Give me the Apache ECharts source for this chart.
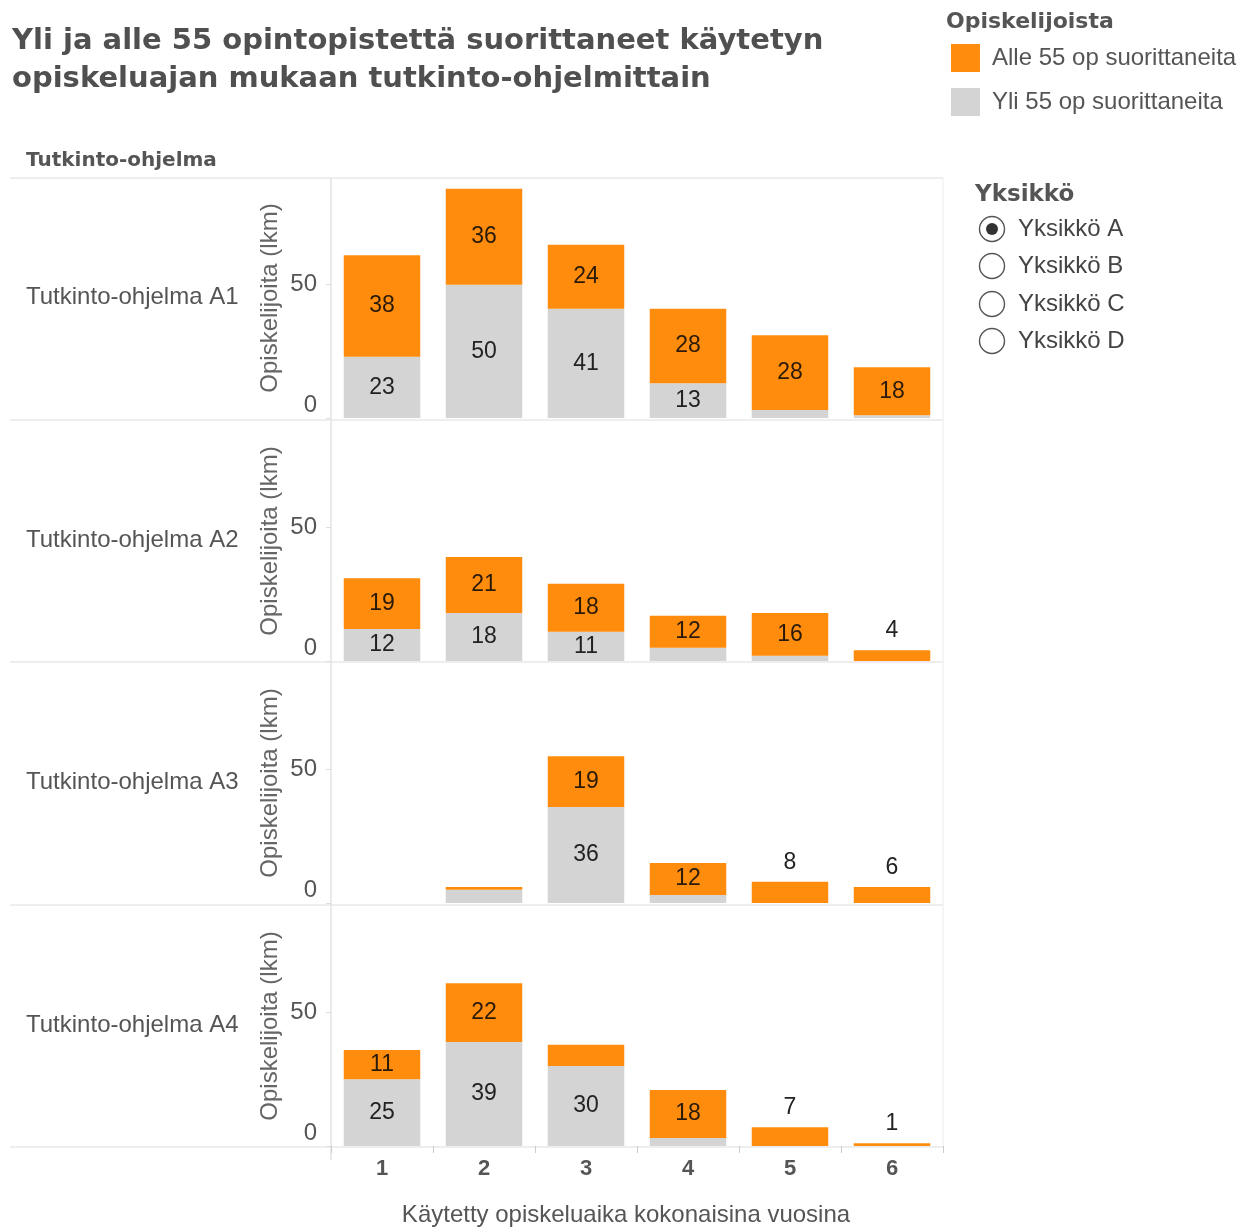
<!DOCTYPE html>
<html>
<head>
<meta charset="utf-8">
<script src="https://cdn.jsdelivr.net/npm/echarts@6/dist/echarts.min.js"></script>
<style>
  html, body { margin: 0; padding: 0; background: #ffffff; }
  #chart { width: 1247px; height: 1228px; }
</style>
</head>
<body>
<div id="chart"></div>
<script>
// Study years (x categories)
const years = ['1', '2', '3', '4', '5', '6'];
const programmes = ['Tutkinto-ohjelma A1', 'Tutkinto-ohjelma A2', 'Tutkinto-ohjelma A3', 'Tutkinto-ohjelma A4'];
const units = ['Yksikkö A', 'Yksikkö B', 'Yksikkö C', 'Yksikkö D'];
const yTicks = [0, 50];

// Students with more than 55 credits, per study year
const over55_A1 = [23, 50, 41, 13, 3, 1];
const over55_A2 = [12, 18, 11, 5, 2, 0];
const over55_A3 = [0, 5, 36, 3, 0, 0];
const over55_A4 = [25, 39, 30, 3, 0, 0];

// Students with fewer than 55 credits, per study year
const under55_A1 = [38, 36, 24, 28, 28, 18];
const under55_A2 = [19, 21, 18, 12, 16, 4];
const under55_A3 = [0, 1, 19, 12, 8, 6];
const under55_A4 = [11, 22, 8, 18, 7, 1];

const over55 = [over55_A1, over55_A2, over55_A3, over55_A4];
const under55 = [under55_A1, under55_A2, under55_A3, under55_A4];

const NAME_UNDER = 'Alle 55 op suorittaneita';
const NAME_OVER = 'Yli 55 op suorittaneita';
const ORANGE = '#ff8c0c';
const GREY = '#d4d4d4';
const TEXT = '#555555';
const FONT = '"Liberation Sans", Arial, sans-serif';
const HEAD_FONT = '"DejaVu Sans", sans-serif';
const FS = 24;

// Facet layout
const plotLeft = 331, plotWidth = 612, panelHeight = 240;
const panelTops = [178, 421, 663, 906];
const yMax = 90;

const grids = [], xAxes = [], yAxes = [], series = [];

panelTops.forEach((top, i) => {
  const last = i === panelTops.length - 1;
  grids.push({ left: plotLeft, top: top, width: plotWidth, height: panelHeight });
  xAxes.push({
    type: 'category', gridIndex: i, data: years,
    axisLine: { show: false },
    axisTick: { show: last, length: 7, lineStyle: { color: '#cccccc' } },
    axisLabel: { show: last, fontSize: 22, fontWeight: 'bold', color: TEXT, fontFamily: FONT, margin: 12 },
    name: last ? 'Käytetty opiskeluaika kokonaisina vuosina' : '',
    nameLocation: 'middle', nameGap: 57,
    nameTextStyle: { fontSize: FS, color: TEXT, fontFamily: FONT, padding: [0, 22, 0, 0] }
  });
  yAxes.push({
    type: 'value', gridIndex: i, min: 0, max: yMax, interval: 50,
    axisLine: { show: false },
    axisTick: { show: true, length: 5, lineStyle: { color: '#dddddd' } },
    splitLine: { show: false },
    axisLabel: {
      showMaxLabel: false, fontSize: FS, color: TEXT, fontFamily: FONT, margin: 14,
      formatter: v => (yTicks.indexOf(v) === 0 ? '{z|' + v + '}' : (yTicks.indexOf(v) > 0 ? String(v) : '')),
      rich: { z: { fontSize: FS, color: TEXT, fontFamily: FONT, padding: [0, 0, 26, 0] } }
    },
    name: 'Opiskelijoita (lkm)', nameLocation: 'middle', nameGap: 49,
    nameTextStyle: { fontSize: FS, color: '#666666', fontFamily: FONT }
  });

  const lower = over55[i], upper = under55[i];
  series.push({
    name: NAME_OVER, type: 'bar', stack: 'p' + i, xAxisIndex: i, yAxisIndex: i,
    barWidth: '75%', itemStyle: { color: GREY },
    label: { position: 'inside', fontSize: 23, color: '#222222', fontFamily: FONT },
    data: lower.map(v => ({ value: v, label: { show: v >= 10 } }))
  });
  series.push({
    name: NAME_UNDER, type: 'bar', stack: 'p' + i, xAxisIndex: i, yAxisIndex: i,
    barWidth: '75%', itemStyle: { color: ORANGE },
    label: { fontSize: 23, color: '#2a1a0a', fontFamily: FONT },
    data: upper.map((v, k) => {
      if (v >= 10) return { value: v, label: { show: true, position: 'inside' } };
      if (v > 0 && lower[k] === 0) return { value: v, label: { show: true, position: 'top', distance: 8, color: '#222222' } };
      return { value: v, label: { show: false } };
    })
  });
});

// Frame lines, row headers and the unit selector
const graphics = [];
const rowLines = [178, 420, 662, 905, 1147];
rowLines.forEach(y => graphics.push({
  type: 'line', shape: { x1: 10, y1: y, x2: 943, y2: y },
  style: { stroke: '#dedede', lineWidth: 1.2 }, silent: true
}));
graphics.push({ type: 'line', shape: { x1: plotLeft, y1: 178, x2: plotLeft, y2: 1160 }, style: { stroke: '#dcdcdc', lineWidth: 1.2 }, silent: true });
graphics.push({ type: 'line', shape: { x1: 943, y1: 178, x2: 943, y2: 1147 }, style: { stroke: '#ececec', lineWidth: 1 }, silent: true });

graphics.push({
  type: 'text', x: 26, y: 161,
  style: { text: 'Tutkinto-ohjelma', font: 'bold 20px ' + HEAD_FONT, fill: TEXT, verticalAlign: 'middle' }
});
programmes.forEach((p, i) => graphics.push({
  type: 'text', x: 26, y: panelTops[i] + panelHeight / 2 - 1,
  style: { text: p, font: FS + 'px ' + FONT, fill: TEXT, verticalAlign: 'middle' }
}));

graphics.push({
  type: 'text', x: 946, y: 22,
  style: { text: 'Opiskelijoista', font: 'bold 22px ' + HEAD_FONT, fill: TEXT, verticalAlign: 'middle' }
});
graphics.push({
  type: 'text', x: 975, y: 195,
  style: { text: 'Yksikkö', font: 'bold 23px ' + HEAD_FONT, fill: TEXT, verticalAlign: 'middle' }
});
const radioY = [229, 266, 304, 341];
units.forEach((u, i) => {
  graphics.push({ type: 'circle', shape: { cx: 992, cy: radioY[i], r: 12.5 }, style: { fill: '#ffffff', stroke: '#555555', lineWidth: 1.4 } });
  if (i === 0) graphics.push({ type: 'circle', shape: { cx: 992, cy: radioY[i], r: 6 }, style: { fill: '#333333' } });
  graphics.push({ type: 'text', x: 1018, y: radioY[i], style: { text: u, font: FS + 'px ' + FONT, fill: '#444444', verticalAlign: 'middle' } });
});

const chart = echarts.init(document.getElementById('chart'), null, { renderer: 'canvas' });
chart.setOption({
  animation: false,
  backgroundColor: '#ffffff',
  title: {
    text: 'Yli ja alle 55 opintopistettä suorittaneet käytetyn\nopiskeluajan mukaan tutkinto-ohjelmittain',
    left: 12, top: 22, padding: 0,
    textStyle: { fontSize: 29, fontWeight: 'bold', fontFamily: HEAD_FONT, color: '#505050', lineHeight: 38 }
  },
  legend: {
    data: [NAME_UNDER, NAME_OVER], orient: 'vertical', left: 951, top: 44, padding: 0,
    icon: 'rect', itemWidth: 29, itemHeight: 28, itemGap: 16,
    textStyle: { fontSize: FS, color: TEXT, fontFamily: FONT, padding: [0, 0, 0, 7] }
  },
  grid: grids, xAxis: xAxes, yAxis: yAxes, series: series,
  graphic: graphics
});
</script>
</body>
</html>
